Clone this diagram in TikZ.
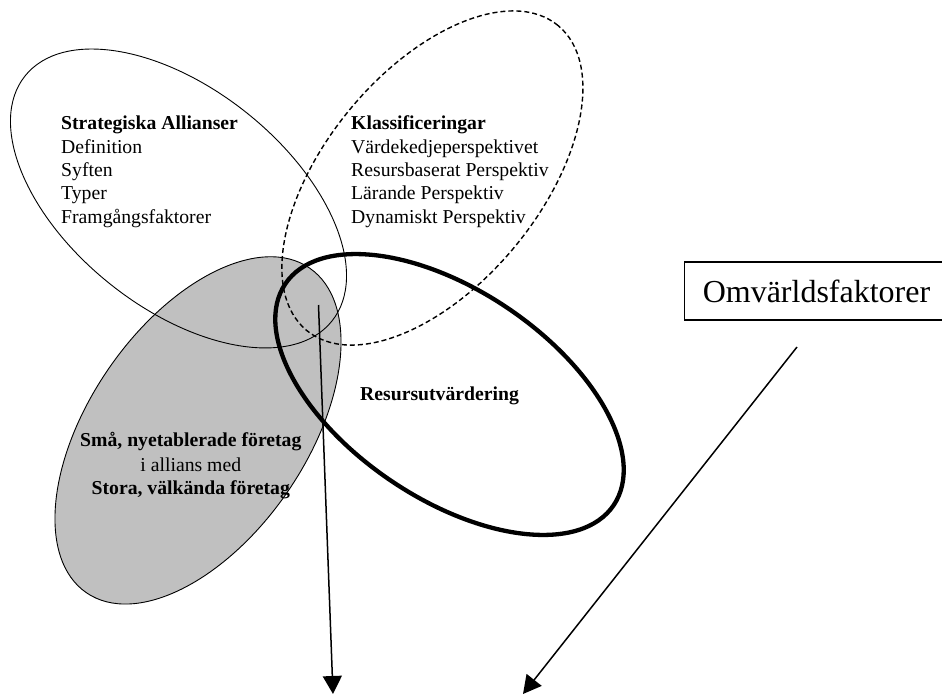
\documentclass[tikz,border=0pt]{standalone}
\usepackage{fontspec}
\setmainfont{Liberation Serif}
\usetikzlibrary{arrows.meta}
\definecolor{shade}{RGB}{192,192,192}
\tikzset{
  thinring/.style={draw=black, line width=0.9pt},
  dashring/.style={draw=black, line width=1.4pt, dash pattern=on 5pt off 3pt},
  boldring/.style={draw=black, line width=4.3pt},
  firmring/.style={draw=black, fill=shade, line width=0.9pt},
  txt/.style={inner sep=0pt, font=\fontsize{19.7}{23.4}\selectfont},
  hdr/.style={inner sep=0pt, font=\fontsize{19.7}{23.4}\selectfont\bfseries},
  flow/.style={line width=1.5pt, -{Triangle[width=19pt,length=18pt]}},
  factorbox/.style={draw=black, line width=1.2pt, inner xsep=18pt, inner ysep=0pt,
    minimum height=58pt, font=\fontsize{32}{38}\selectfont},
}
\begin{document}
\begin{tikzpicture}[x=1pt,y=-1pt]
\useasboundingbox (0,0) rectangle (942,695);

% centres of the four rings
\coordinate (cfirm) at (198,430.4);
\coordinate (calli) at (178.5,198.5);
\coordinate (cklas) at (432.4,178);
\coordinate (cres)  at (449.5,394.5);

% shaded ring for the firms, drawn first so the other outlines lie on top
\path[firmring, rotate around={55.5:(cfirm)}] (cfirm) ellipse [x radius=197pt, y radius=108.6pt];
% strategic alliances
\path[thinring, rotate around={-38.6:(calli)}] (calli) ellipse [x radius=196.4pt, y radius=109.5pt];
% classifications
\path[dashring, rotate around={50.5:(cklas)}] (cklas) ellipse [x radius=197.6pt, y radius=107.3pt];
% resource evaluation
\path[boldring, rotate around={-34:(cres)}] (cres) ellipse [x radius=198pt, y radius=104.2pt];

% strategic alliances block
\node[hdr, anchor=base west] (sa0) at (61,129.7) {Strategiska Allianser};
\node[txt, anchor=base west] (sa1) at (61,153.1) {Definition};
\node[txt, anchor=base west] (sa2) at (61,176.5) {Syften};
\node[txt, anchor=base west] (sa3) at (61,199.9) {Typer};
\node[txt, anchor=base west] (sa4) at (61,223.3) {Framgångsfaktorer};

% classifications block
\node[hdr, anchor=base west] (kl0) at (351,129.7) {Klassificeringar};
\node[txt, anchor=base west] (kl1) at (351,153.1) {Värdekedjeperspektivet};
\node[txt, anchor=base west] (kl2) at (351,176.5) {Resursbaserat Perspektiv};
\node[txt, anchor=base west] (kl3) at (351,199.9) {Lärande Perspektiv};
\node[txt, anchor=base west] (kl4) at (351,223.3) {Dynamiskt Perspektiv};

% resource evaluation label
\node[hdr, anchor=base west] (res) at (360,400) {Resursutvärdering};

% firms block
\node[hdr, anchor=base] (fa0) at (190.8,446.7) {Små, nyetablerade företag};
\node[txt, anchor=base] (fa1) at (190.8,471.3) {i allians med};
\node[hdr, anchor=base] (fa2) at (190.8,494.3) {Stora, välkända företag};

% environment factors box
\node[factorbox] (omv) at (816.5,291) {Omvärldsfaktorer};

% arrows
\coordinate (a1s) at (318.5,305);
\coordinate (a1e) at (333,694);
\coordinate (a2s) at (797,347);
\coordinate (a2e) at (523,694);
\draw[flow] (a1s) -- (a1e);
\draw[flow] (a2s) -- (a2e);
\end{tikzpicture}
\end{document}
